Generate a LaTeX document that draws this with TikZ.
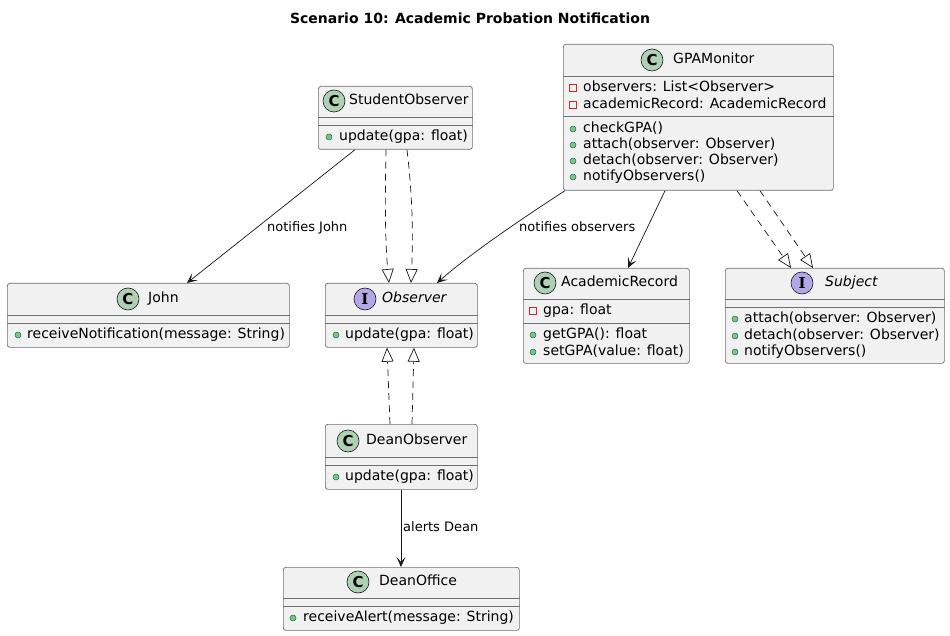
\documentclass[tikz,border=0pt]{standalone}
\usepackage{fontspec}
\setmainfont{DejaVu Sans}
\newfontfamily\iconserif{DejaVu Serif}
\usetikzlibrary{arrows.meta}

\definecolor{boxfill}{HTML}{F1F1F1}
\definecolor{linecol}{HTML}{181818}
\definecolor{sepcol}{HTML}{6E6E6E}
\definecolor{classgreen}{HTML}{ADD1B2}
\definecolor{ifacepurple}{HTML}{B4A7E5}
\definecolor{pubfill}{HTML}{84BE84}
\definecolor{pubdraw}{HTML}{038048}
\definecolor{privred}{HTML}{C82930}

\newcommand{\umlfont}{\fontsize{14}{16}\selectfont}
\newcommand{\edgefont}{\fontsize{13}{15}\selectfont}

\tikzset{
  classbox/.style={draw=sepcol, fill=boxfill, rounded corners=2.5pt, line width=0.7pt,
    anchor=north west, inner sep=0pt},
  sepline/.style={draw=sepcol, line width=0.6pt},
  classicon/.style={circle, draw=linecol, line width=0.6pt, fill=classgreen, minimum size=22pt,
    inner sep=0pt, font=\fontsize{15}{15}\selectfont\bfseries},
  ifaceicon/.style={classicon, fill=ifacepurple, font=\iconserif\fontsize{15}{15}\selectfont\bfseries},
  classname/.style={anchor=west, inner sep=0pt, text height=10.5pt, text depth=3pt, font=\umlfont},
  member/.style={anchor=west, inner sep=0pt, text height=10.5pt, text depth=3pt, font=\umlfont},
  pubdot/.style={circle, fill=pubfill, draw=pubdraw, line width=0.5pt, minimum size=6pt, inner sep=0pt},
  privsq/.style={rectangle, draw=privred, line width=0.8pt, minimum size=6.5pt, inner sep=0pt},
  assoc/.style={draw=linecol, line width=0.7pt, -{Stealth[length=10pt, width=9pt, inset=5pt]}},
  realize/.style={draw=linecol, line width=0.7pt, dash pattern=on 7pt off 5pt,
    -{Triangle[open, length=14pt, width=12pt]}},
  edgelabel/.style={anchor=west, inner sep=0pt, text height=10pt, text depth=3pt, font=\edgefont}
}

\begin{document}
\begin{tikzpicture}[x=1pt, y=-1pt, >=Stealth]
  % Fundo e limites da figura
  \fill[white] (0,0) rectangle (950,636);
  \useasboundingbox (0,0) rectangle (950,636);

  % Titulo
  \node[font=\umlfont\bfseries, inner sep=0pt] (title) at (470,18) {Scenario 10: Academic Probation Notification};

  % StudentObserver
  \node[classbox, minimum width=154pt, minimum height=63pt] (so) at (318,86) {};
  \node[classicon] (soicon) at (334,101) {C};
  \node[classname] (soname) at (349,101) {StudentObserver};
  \draw[sepline] (so.west |- 0,117) -- (so.east |- 0,117);
  \draw[sepline] (so.west |- 0,125) -- (so.east |- 0,125);
  \node[pubdot] (sodot) at (329,137) {};
  \node[member] (soupd) at (339,137) {update(gpa: float)};

  % GPAMonitor
  \node[classbox, minimum width=270pt, minimum height=146pt] (gpa) at (563,44) {};
  \node[classicon] (gpaicon) at (652,60) {C};
  \node[classname] (gpaname) at (673,60) {GPAMonitor};
  \draw[sepline] (gpa.west |- 0,76) -- (gpa.east |- 0,76);
  \draw[sepline] (gpa.west |- 0,116) -- (gpa.east |- 0,116);
  \node[privsq] (gpasq1) at (573,88) {};
  \node[member] (gpaobs) at (583,88) {observers: List<Observer>};
  \node[privsq] (gpasq2) at (573,105) {};
  \node[member] (gpaacr) at (583,105) {academicRecord: AcademicRecord};
  \foreach \y/\txt in {129/checkGPA(), 145/attach(observer: Observer),
                       161/detach(observer: Observer), 177/notifyObservers()} {
    \node[pubdot] (gpadot\y) at (573,\y) {};
    \node[member] (gpam\y) at (583,\y) {\txt};
  }

  % John
  \node[classbox, minimum width=282pt, minimum height=64pt] (john) at (7,283) {};
  \node[classicon] (johnicon) at (128,299) {C};
  \node[classname] (johnname) at (148,299) {John};
  \draw[sepline] (john.west |- 0,315) -- (john.east |- 0,315);
  \draw[sepline] (john.west |- 0,323) -- (john.east |- 0,323);
  \node[pubdot] (johndot) at (18,335) {};
  \node[member] (johnrcv) at (27,335) {receiveNotification(message: String)};

  % Observer (interface)
  \node[classbox, minimum width=152pt, minimum height=64pt] (obs) at (325,283) {};
  \node[ifaceicon] (obsicon) at (365,299) {I};
  \node[classname, font=\umlfont\itshape] (obsname) at (382,299) {Observer};
  \draw[sepline] (obs.west |- 0,315) -- (obs.east |- 0,315);
  \draw[sepline] (obs.west |- 0,323) -- (obs.east |- 0,323);
  \node[pubdot] (obsdot) at (336,335) {};
  \node[member] (obsupd) at (345,335) {update(gpa: float)};

  % AcademicRecord
  \node[classbox, minimum width=166pt, minimum height=95pt] (rec) at (523,268) {};
  \node[classicon] (recicon) at (545,283) {C};
  \node[classname] (recname) at (561,283) {AcademicRecord};
  \draw[sepline] (rec.west |- 0,299) -- (rec.east |- 0,299);
  \draw[sepline] (rec.west |- 0,323) -- (rec.east |- 0,323);
  \node[privsq] (recsq) at (533,311) {};
  \node[member] (recgpa) at (543,311) {gpa: float};
  \node[pubdot] (recdot1) at (533,335) {};
  \node[member] (recget) at (543,335) {getGPA(): float};
  \node[pubdot] (recdot2) at (533,352) {};
  \node[member] (recset) at (543,352) {setGPA(value: float)};

  % Subject (interface)
  \node[classbox, minimum width=219pt, minimum height=95pt] (subj) at (725,268) {};
  \node[ifaceicon] (subjicon) at (802,283) {I};
  \node[classname, font=\umlfont\itshape] (subjname) at (825,283) {Subject};
  \draw[sepline] (subj.west |- 0,299) -- (subj.east |- 0,299);
  \draw[sepline] (subj.west |- 0,307) -- (subj.east |- 0,307);
  \foreach \y/\txt in {319/attach(observer: Observer), 336/detach(observer: Observer),
                       352/notifyObservers()} {
    \node[pubdot] (subjdot\y) at (735,\y) {};
    \node[member] (subjm\y) at (744,\y) {\txt};
  }

  % DeanObserver
  \node[classbox, minimum width=152pt, minimum height=65pt] (dobs) at (325,424) {};
  \node[classicon] (dobsicon) at (348,441) {C};
  \node[classname] (dobsname) at (366,441) {DeanObserver};
  \draw[sepline] (dobs.west |- 0,457) -- (dobs.east |- 0,457);
  \draw[sepline] (dobs.west |- 0,465) -- (dobs.east |- 0,465);
  \node[pubdot] (dobsdot) at (336,477) {};
  \node[member] (dobsupd) at (345,477) {update(gpa: float)};

  % DeanOffice
  \node[classbox, minimum width=236pt, minimum height=63pt] (doff) at (283,567) {};
  \node[classicon] (doffnicon) at (358,582) {C};
  \node[classname] (doffname) at (379,582) {DeanOffice};
  \draw[sepline] (doff.west |- 0,598) -- (doff.east |- 0,598);
  \draw[sepline] (doff.west |- 0,606) -- (doff.east |- 0,606);
  \node[pubdot] (doffdot) at (293,618) {};
  \node[member] (doffrcv) at (303,618) {receiveAlert(message: String)};

  % Associacoes com rotulo
  \draw[assoc] (so.south -| 355,0) -- (john.north -| 187,0);
  \node[edgelabel] (lbljohn) at (267,228) {notifies John};
  \draw[assoc] (gpa.south -| 565,0) .. controls (532,212) and (472,252) .. (obs.north -| 437,0);
  \node[edgelabel] (lblobs) at (519,228) {notifies observers};
  \draw[assoc] (gpa.south -| 665,0) -- (rec.north -| 628,0);
  \draw[assoc] (dobs.south -| 401,0) -- (doff.north -| 401,0);
  \node[edgelabel] (lbldean) at (403,528) {alerts Dean};

  % Realizacoes (linhas tracejadas com triangulo aberto)
  \draw[realize] (so.south -| 386,0) .. controls (385,200) and (385,240) .. (obs.north -| 389,0);
  \draw[realize] (so.south -| 407,0) .. controls (413,200) and (413,240) .. (obs.north -| 411,0);
  \draw[realize] (gpa.south -| 737,0) -- (subj.north -| 791,0);
  \draw[realize] (gpa.south -| 760,0) -- (subj.north -| 813,0);
  \draw[realize] (dobs.north -| 390,0) -- (obs.south -| 387,0);
  \draw[realize] (dobs.north -| 412,0) -- (obs.south -| 414,0);
\end{tikzpicture}
\end{document}
